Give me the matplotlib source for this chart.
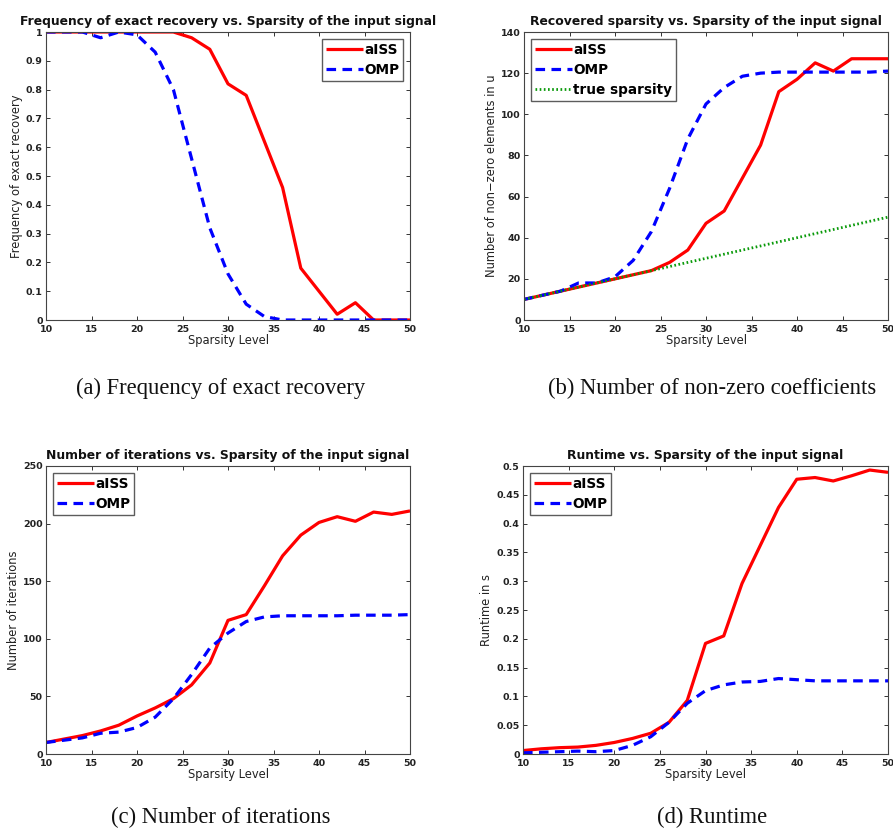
import matplotlib
matplotlib.use("Agg")
import matplotlib.pyplot as plt
import numpy as np

# Sparsity levels (x axis)
sparsity = [10, 12, 14, 16, 18, 20, 22, 24, 26, 28, 30, 32, 34, 36, 38, 40, 42, 44, 46, 48, 50]

# (a) Frequency of exact recovery
recov_aiss = [1, 1, 1, 1, 1, 1, 1, 1, 0.98, 0.94, 0.82, 0.78, 0.62, 0.46, 0.18, 0.10, 0.02, 0.06, 0, 0, 0]
recov_omp = [1, 1, 1, 0.98, 1.0, 0.99, 0.93, 0.80, 0.56, 0.32, 0.16, 0.055, 0.012, 0.0, 0, 0, 0, 0, 0, 0, 0]

# (b) Number of non-zero elements
nnz_aiss = [10, 12, 14, 16, 18, 20, 22, 24, 28, 34, 47, 53, 69, 85, 111, 117, 125, 121, 127, 127, 127]
nnz_omp = [10, 12, 14, 18, 18, 21, 29, 43, 64, 88, 105, 113, 118.5, 120, 120.5, 120.5, 120.5, 120.5, 120.5, 120.5, 121]
nnz_true = sparsity

# (c) Number of iterations
iter_aiss = [10, 13, 16, 20, 25, 33, 40, 48, 60, 79, 116, 121, 146, 172, 190, 201, 206, 202, 210, 208, 211]
iter_omp = [10, 12, 14, 18, 19, 23, 32, 48, 69, 92, 105, 115, 119, 120, 120, 120, 120, 120.5, 120.5, 120.5, 121]

# (d) Runtime in seconds
time_aiss = [0.006, 0.009, 0.011, 0.012, 0.015, 0.020, 0.027, 0.036, 0.055, 0.093, 0.192, 0.205, 0.296,
             0.362, 0.428, 0.477, 0.480, 0.474, 0.483, 0.493, 0.489]
time_omp = [0.002, 0.003, 0.004, 0.005, 0.004, 0.006, 0.015, 0.030, 0.055, 0.088, 0.110, 0.120, 0.125,
            0.126, 0.131, 0.129, 0.127, 0.127, 0.127, 0.127, 0.127]

titles = [
    "Frequency of exact recovery vs. Sparsity of the input signal",
    "Recovered sparsity vs. Sparsity of the input signal",
    "Number of iterations vs. Sparsity of the input signal",
    "Runtime vs. Sparsity of the input signal",
]
ylabels = [
    "Frequency of exact recovery",
    "Number of non\u2212zero elements in u",
    "Number of iterations",
    "Runtime in s",
]
captions = [
    "(a) Frequency of exact recovery",
    "(b) Number of non-zero coefficients",
    "(c) Number of iterations",
    "(d) Runtime",
]

W, H = 893, 830
fig = plt.figure(figsize=(W / 100, H / 100), dpi=100)
fig.patch.set_facecolor("white")


def axes_px(left, top, right, bottom):
    return fig.add_axes([left / W, 1 - bottom / H, (right - left) / W, (bottom - top) / H])


ax_a = axes_px(46, 32, 410, 320)
ax_b = axes_px(524, 32, 888, 320)
ax_c = axes_px(46, 466, 410, 754)
ax_d = axes_px(523, 466, 888, 754)
axes = [ax_a, ax_b, ax_c, ax_d]

red_kw = dict(color="#ff0000", lw=2.3, solid_capstyle="butt")
blue_kw = dict(color="#0000ff", lw=2.3, linestyle=(0, (3.0, 2.0)), dash_capstyle="butt")
green_kw = dict(color="#0a9a0a", lw=2.0, linestyle=(0, (0.6, 0.9)))

ax_a.plot(sparsity, recov_aiss, label="aISS", **red_kw)
ax_a.plot(sparsity, recov_omp, label="OMP", **blue_kw)
ax_a.set_ylim(0, 1)
ax_a.set_yticks(np.arange(0, 1.01, 0.1))
ax_a.set_yticklabels(["0", "0.1", "0.2", "0.3", "0.4", "0.5", "0.6", "0.7", "0.8", "0.9", "1"])

ax_b.plot(sparsity, nnz_aiss, label="aISS", **red_kw)
ax_b.plot(sparsity, nnz_omp, label="OMP", **blue_kw)
ax_b.plot(sparsity, nnz_true, label="true sparsity", **green_kw)
ax_b.set_ylim(0, 140)
ax_b.set_yticks(np.arange(0, 141, 20))

ax_c.plot(sparsity, iter_aiss, label="aISS", **red_kw)
ax_c.plot(sparsity, iter_omp, label="OMP", **blue_kw)
ax_c.set_ylim(0, 250)
ax_c.set_yticks(np.arange(0, 251, 50))

ax_d.plot(sparsity, time_aiss, label="aISS", **red_kw)
ax_d.plot(sparsity, time_omp, label="OMP", **blue_kw)
ax_d.set_ylim(0, 0.5)
ax_d.set_yticks(np.arange(0, 0.51, 0.05))
ax_d.set_yticklabels(["0", "0.05", "0.1", "0.15", "0.2", "0.25", "0.3", "0.35", "0.4", "0.45", "0.5"])

legend_locs = ["upper right", "upper left", "upper left", "upper left"]

for ax, title, ylab, loc in zip(axes, titles, ylabels, legend_locs):
    ax.set_xlim(10, 50)
    ax.set_xticks(np.arange(10, 51, 5))
    ax.set_title(title, fontsize=8.9, fontweight="bold", pad=5, color="#111111")
    ax.set_xlabel("Sparsity Level", fontsize=8.3, labelpad=0, color="#222222")
    ax.set_ylabel(ylab, fontsize=8.3, labelpad=2, color="#222222")
    ax.tick_params(direction="in", top=True, right=True, length=3, width=0.7,
                   labelsize=6.8, colors="#333333", labelcolor="#222222")
    ax.tick_params(axis="x", pad=3.5)
    ax.tick_params(axis="y", pad=2.5)
    for lbl in ax.get_xticklabels() + ax.get_yticklabels():
        lbl.set_fontweight("bold")
    for sp in ax.spines.values():
        sp.set_color("#444444")
        sp.set_linewidth(0.8)
    leg = ax.legend(loc=loc, fontsize=9.8, frameon=True, fancybox=False,
                    edgecolor="#333333", borderpad=0.3, labelspacing=0.45,
                    handlelength=2.7, handletextpad=0.1, borderaxespad=0.5)
    leg.get_frame().set_linewidth(1.0)
    for t in leg.get_texts():
        t.set_fontweight("bold")

caption_pos = [(221, 388), (712, 388), (221, 817), (712, 817)]
for (cx, cy), cap in zip(caption_pos, captions):
    fig.text(cx / W, 1 - cy / H, cap, ha="center", va="center",
             fontsize=16.3, family="Liberation Serif", color="#111111")

fig.savefig("out.png", dpi=100, facecolor="white")
